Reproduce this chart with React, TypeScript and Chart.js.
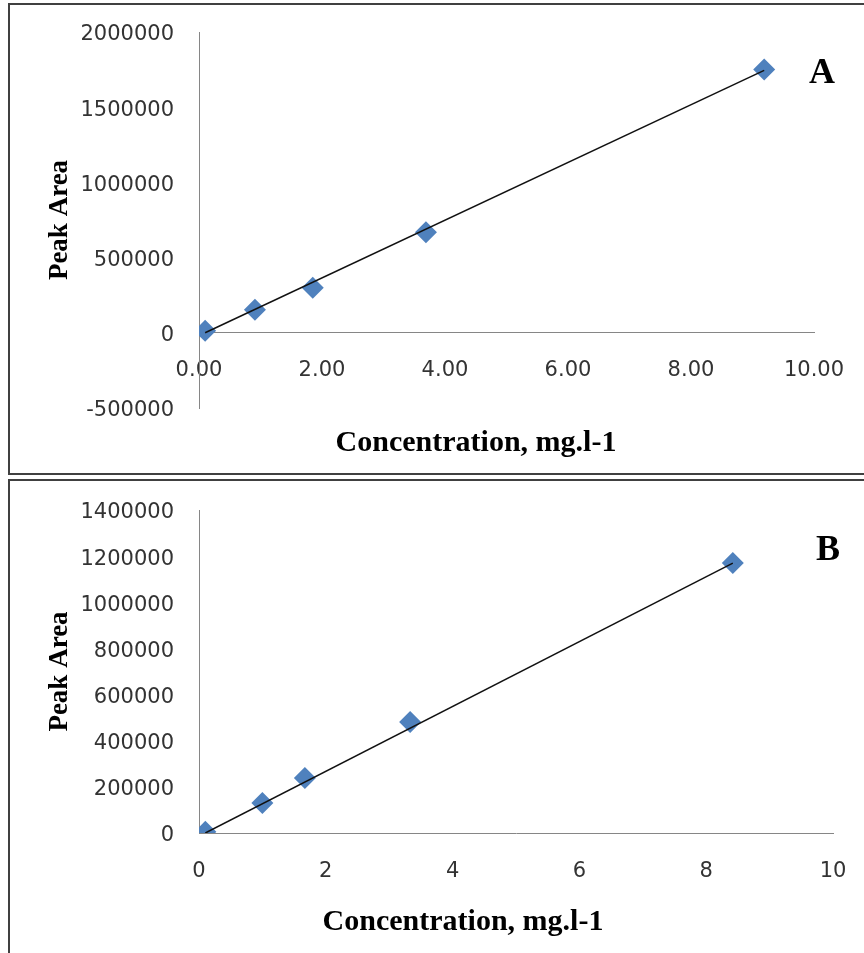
import React, { useEffect, useRef } from 'react';
import { Chart, registerables } from 'chart.js';

Chart.register(...registerables);

// ---- Panel A data ----
const concA = [0.1, 0.91, 1.85, 3.69, 9.19];
const areaA = [13000, 154000, 300000, 668000, 1751000];
const trendConcA = [0.1, 9.19];
const trendAreaA = [0, 1745000];
const xRangeA = [0, 10];
const xStepA = 2;
const yRangeA = [-500000, 2000000];
const yStepA = 500000;

// ---- Panel B data ----
const concB = [0.1, 1.0, 1.67, 3.33, 8.42];
const areaB = [5000, 130000, 238000, 481000, 1170000];
const trendConcB = [0.1, 8.42];
const trendAreaB = [0, 1170000];
const xRangeB = [0, 10];
const xStepB = 2;
const yRangeB = [0, 1400000];
const yStepB = 200000;

const xTitle = 'Concentration, mg.l-1';
const yTitle = 'Peak Area';

const tickFont = { family: 'DejaVu Sans', size: 21 };
const yTitleFont = { family: 'Liberation Serif', size: 27, weight: 'bold' as const };
const axisColor = '#868686';
const tickColor = '#333333';
const markerColor = '#4F81BD';

type PanelProps = {
  xs: number[];
  ys: number[];
  tx: number[];
  ty: number[];
  xRange: number[];
  xStep: number;
  yRange: number[];
  yStep: number;
  decimals: number;
  xAtZero: boolean;
  width: number;
  height: number;
  padding: { left: number; top: number; right: number; bottom: number };
  xLabelPad: number;
  xHeight: number;
};

function ScatterPanel(p: PanelProps) {
  const ref = useRef<HTMLCanvasElement | null>(null);
  useEffect(() => {
    if (!ref.current) return;
    const points = p.xs.map((x, i) => ({ x, y: p.ys[i] }));
    const trend = p.tx.map((x, i) => ({ x, y: p.ty[i] }));
    const chart = new Chart(ref.current, {
      type: 'scatter',
      data: {
        datasets: [
          {
            label: 'trend',
            data: trend,
            showLine: true,
            borderColor: '#111111',
            borderWidth: 1.5,
            pointRadius: 0,
            order: 0,
          } as any,
          {
            label: 'Peak Area',
            data: points,
            pointStyle: 'rectRot',
            pointRadius: 11,
            pointBackgroundColor: markerColor,
            pointBorderWidth: 0,
            borderWidth: 0,
            backgroundColor: markerColor,
            order: 1,
          } as any,
        ],
      },
      options: {
        animation: false,
        responsive: false,
        devicePixelRatio: 1,
        layout: { padding: p.padding },
        plugins: {
          legend: { display: false },
          tooltip: { enabled: false },
        },
        scales: {
          x: {
            type: 'linear',
            position: p.xAtZero ? ({ y: 0 } as any) : 'bottom',
            min: p.xRange[0],
            max: p.xRange[1],
            ticks: {
              stepSize: p.xStep,
              font: tickFont,
              color: tickColor,
              padding: p.xLabelPad,
              maxRotation: 0,
              callback: (v: any) => Number(v).toFixed(p.decimals),
            },
            grid: { display: true, drawOnChartArea: false, drawTicks: false },
            border: { display: true, color: axisColor, width: 1 },
            afterFit: (s: any) => {
              s.height = p.xHeight;
              s.paddingLeft = 0;
              s.paddingRight = 0;
            },
          },
          y: {
            type: 'linear',
            position: 'left',
            min: p.yRange[0],
            max: p.yRange[1],
            ticks: {
              stepSize: p.yStep,
              font: tickFont,
              color: tickColor,
              padding: 25,
              labelOffset: 3,
              callback: (v: any) => String(v),
            },
            grid: { display: true, drawOnChartArea: false, drawTicks: false },
            border: { display: true, color: axisColor, width: 1 },
            title: {
              display: true,
              text: yTitle,
              font: yTitleFont,
              color: '#000000',
              padding: { top: 44, bottom: 0 },
            },
            afterFit: (s: any) => {
              s.width = 199 - p.padding.left;
              s.paddingTop = 0;
              s.paddingBottom = 0;
            },
          },
        },
      } as any,
    });
    return () => chart.destroy();
  }, []);
  return (
    <canvas
      ref={ref}
      width={p.width}
      height={p.height}
      style={{ position: 'absolute', left: 0, top: 0, width: p.width, height: p.height }}
    />
  );
}

const serifBold: React.CSSProperties = {
  position: 'absolute',
  fontFamily: "'Liberation Serif', 'Times New Roman', serif",
  fontWeight: 'bold',
  color: '#000',
  whiteSpace: 'nowrap',
  lineHeight: 1,
  transform: 'translate(-50%, -50%)',
};

export default function App() {
  return (
    <div
      style={{
        position: 'absolute',
        left: 0,
        top: 0,
        width: 864,
        height: 953,
        overflow: 'hidden',
        background: '#ffffff',
      }}
    >
      {/* Panel A frame */}
      <div
        style={{
          position: 'absolute',
          left: 8,
          top: 3,
          width: 900,
          height: 472,
          boxSizing: 'border-box',
          border: '2px solid #404040',
        }}
      />
      {/* Panel B frame */}
      <div
        style={{
          position: 'absolute',
          left: 8,
          top: 479,
          width: 900,
          height: 520,
          boxSizing: 'border-box',
          border: '2px solid #404040',
        }}
      />

      <div style={{ position: 'absolute', left: 0, top: 0, width: 864, height: 476 }}>
        <ScatterPanel
          xs={concA}
          ys={areaA}
          tx={trendConcA}
          ty={trendAreaA}
          xRange={xRangeA}
          xStep={xStepA}
          yRange={yRangeA}
          yStep={yStepA}
          decimals={2}
          xAtZero={true}
          width={864}
          height={476}
          padding={{ left: 0, top: 32, right: 50, bottom: 68 }}
          xLabelPad={25}
          xHeight={40}
        />
        <div style={{ ...serifBold, left: 476, top: 441, fontSize: 30 }}>{xTitle}</div>
        <div style={{ ...serifBold, left: 822, top: 71, fontSize: 36 }}>A</div>
      </div>

      <div style={{ position: 'absolute', left: 0, top: 478, width: 864, height: 475 }}>
        <ScatterPanel
          xs={concB}
          ys={areaB}
          tx={trendConcB}
          ty={trendAreaB}
          xRange={xRangeB}
          xStep={xStepB}
          yRange={yRangeB}
          yStep={yStepB}
          decimals={0}
          xAtZero={false}
          width={864}
          height={475}
          padding={{ left: 0, top: 32, right: 31, bottom: 0 }}
          xLabelPad={26}
          xHeight={120}
        />
        <div style={{ ...serifBold, left: 463, top: 442, fontSize: 30 }}>{xTitle}</div>
        <div style={{ ...serifBold, left: 828, top: 70, fontSize: 36 }}>B</div>
      </div>
    </div>
  );
}
